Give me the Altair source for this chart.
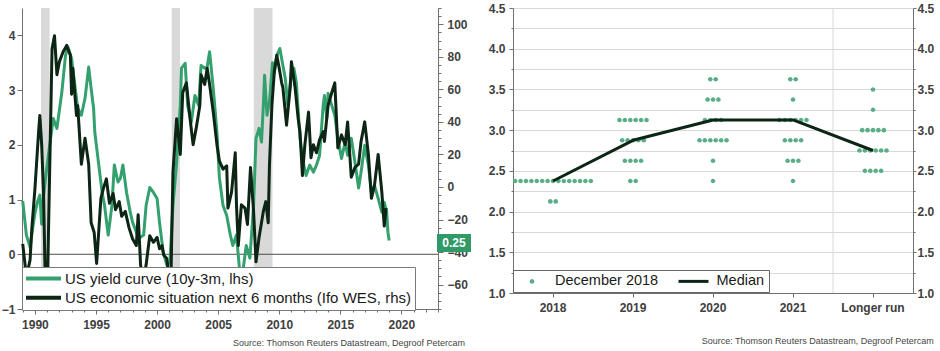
import altair as alt
import pandas as pd

FONT = "Liberation Sans"
GREEN = "#34a06e"
DARK = "#0c2514"
DOT = "#5aae86"
LABEL_GREEN = "#2f9a68"
AXIS = "#707070"
TXT = "#404040"
GRID = "#d9d9d9"
REC = "#d9d9d9"

# ---------------- left panel data ----------------
yc_years = [1989.0, 1989.3, 1989.6, 1989.8, 1990.0, 1990.2, 1990.4, 1990.55, 1990.7, 1990.8,
            1991.1, 1991.5, 1991.8, 1992.2, 1992.5, 1992.7, 1993.0, 1993.3, 1993.5, 1993.8,
            1994.1, 1994.4, 1994.6, 1994.8, 1994.9, 1995.2, 1995.5, 1995.7, 1996.0, 1996.3,
            1996.5, 1996.8, 1997.0, 1997.2, 1997.5, 1997.8, 1998.0, 1998.5, 1998.9, 1999.1,
            1999.4, 1999.7, 2000.0, 2000.2, 2000.5, 2000.8, 2001.05, 2001.3, 2001.6, 2001.9,
            2002.0, 2002.3, 2002.5, 2002.8, 2003.1, 2003.4, 2003.6, 2003.9, 2004.1, 2004.3,
            2004.6, 2004.9, 2005.1, 2005.4, 2005.7, 2006.0, 2006.2, 2006.5, 2006.8, 2007.0,
            2007.3, 2007.6, 2007.9, 2008.1, 2008.35, 2008.55, 2008.7, 2008.8, 2009.0, 2009.2,
            2009.45, 2009.6, 2009.8, 2010.05, 2010.3, 2010.5, 2010.7, 2011.0, 2011.2, 2011.4,
            2011.7, 2011.96, 2012.2, 2012.5, 2012.8, 2013.05, 2013.3, 2013.6, 2013.7, 2013.9,
            2014.0, 2014.3, 2014.55, 2014.8, 2015.1, 2015.4, 2015.6, 2015.9, 2016.2, 2016.5,
            2016.7, 2017.0, 2017.3, 2017.55, 2017.8, 2018.1, 2018.4, 2018.6, 2018.8, 2018.9,
            2019.0]
yc_vals = [0.97, 0.35, 0.13, 0.45, 0.75, 0.95, 1.08, 0.55, 1.05, 1.26,
           1.81, 2.48, 2.3, 2.96, 3.63, 3.79, 3.58, 3.03, 2.67, 2.54,
           2.85, 3.42, 3.03, 2.67, 2.23, 1.68, 1.13, 0.89, 0.35, 0.89,
           1.63, 1.32, 1.39, 1.63, 1.13, 0.77, 0.58, 0.29, 0.35, 0.89,
           1.22, 1.13, 1.02, 0.58, 0.04, -0.2, -0.15, 0.89, 1.68, 2.72,
           3.4, 3.49, 2.72, 2.41, 2.9, 2.72, 3.45, 3.4, 3.42, 3.7,
           3.03, 2.23, 1.4, 0.89, 0.71, 0.35, 0.16, 0.35, -0.4, -0.35,
           0.16, -0.07, 0.89, 2.12, 2.3, 2.05, 2.72, 3.27, 2.54, 2.78,
           3.5, 3.32, 3.63, 3.76, 3.45, 3.21, 2.72, 3.32, 3.4, 3.14,
           2.12, 1.68, 1.44, 1.63, 1.5, 1.63, 1.8, 2.72, 2.9, 2.48,
           2.94, 2.72, 2.54, 2.12, 1.75, 2.05, 1.81, 2.12, 1.68, 1.21,
           1.5, 1.99, 1.63, 1.13, 1.26, 1.02, 0.77, 0.95, 0.77, 0.4,
           0.25]

ifo_years = [1989.0, 1989.3, 1989.6, 1989.75, 1990.0, 1990.3, 1990.4, 1990.55, 1990.7, 1990.85,
             1991.05, 1991.1, 1991.4, 1991.6, 1991.8, 1992.0, 1992.3, 1992.6, 1992.9, 1993.0,
             1993.1, 1993.4, 1993.5, 1993.8, 1994.1, 1994.4, 1994.6, 1994.85, 1995.05, 1995.4,
             1995.6, 1995.85, 1996.1, 1996.4, 1996.6, 1996.9, 1997.1, 1997.4, 1997.7, 1998.0,
             1998.3, 1998.45, 1998.65, 1998.85, 1999.1, 1999.4, 1999.7, 2000.0, 2000.2, 2000.4,
             2000.55, 2000.8, 2001.0, 2001.15, 2001.3, 2001.6, 2001.9, 2002.1, 2002.4, 2002.7,
             2002.95, 2003.2, 2003.5, 2003.6, 2003.9, 2004.1, 2004.3, 2004.6, 2004.9, 2005.1,
             2005.4, 2005.7, 2005.8, 2006.1, 2006.4, 2006.5, 2006.65, 2006.9, 2007.2, 2007.4,
             2007.65, 2007.9, 2008.1, 2008.35, 2008.7, 2008.9, 2009.1, 2009.2, 2009.4, 2009.6,
             2009.8, 2010.0, 2010.2, 2010.3, 2010.6, 2010.9, 2011.0, 2011.3, 2011.55, 2011.7,
             2011.9, 2012.1, 2012.4, 2012.6, 2012.8, 2013.05, 2013.3, 2013.6, 2013.7, 2014.0,
             2014.3, 2014.55, 2014.8, 2015.1, 2015.4, 2015.6, 2015.9, 2016.2, 2016.5, 2016.7,
             2017.0, 2017.3, 2017.55, 2017.8, 2018.1, 2018.4, 2018.6, 2018.75]
ifo_vals = [-35, -55, -45, -25, -1, 34, 44, 26, -3, -60,
            -50, -31, 85, 93, 69, 77, 83, 87, 81, 57,
            73, 44, 50, 14, 30, 14, -22, -28, -47, -7,
            -1, 5, -10, -4, -14, -9, -18, -15, -25, -32,
            -36, -17, -48, -58, -48, -30, -34, -31, -38, -36,
            -42, -44, -58, -50, 9, 42, 20, 58, 64, 42,
            26, 36, 50, 69, 63, 73, 63, 46, 26, 16,
            11, 13, -13, -3, 21, -11, -36, -11, -13, -23,
            12, -15, -46, -31, -15, -9, -22, 13, 50, 71,
            81, 73, 64, 61, 38, 61, 77, 61, 42, 34,
            7, 26, 46, 18, 26, 21, 29, 34, 28, 50,
            58, 64, 24, 32, 26, 40, 6, 12, 14, 28,
            40, 20, -7, 1, 20, -3, -24, -13]

rec_start = [1990.5, 2001.2, 2007.92]
rec_end = [1991.2, 2001.88, 2009.45]

series_names = ["US yield curve (10y-3m, lhs)",
                "US economic situation next 6 months (Ifo WES, rhs)"]

# ---------------- right panel data ----------------
categories = ["2018", "2019", "2020", "2021", "Longer run"]
dot_cat = ["2018", "2018",
           "2019", "2019", "2019", "2019",
           "2020", "2020", "2020", "2020", "2020", "2020",
           "2021", "2021", "2021", "2021", "2021", "2021",
           "Longer run", "Longer run", "Longer run", "Longer run", "Longer run"]
dot_rate = [2.375, 2.125,
            3.125, 2.875, 2.625, 2.375,
            3.625, 3.375, 3.125, 2.875, 2.625, 2.375,
            3.625, 3.375, 3.125, 2.875, 2.625, 2.375,
            3.5, 3.25, 3.0, 2.75, 2.5]
dot_count = [15, 2,
             6, 5, 4, 2,
             2, 3, 4, 6, 1, 1,
             2, 1, 6, 4, 3, 1,
             1, 1, 5, 6, 4]
medians = [2.375, 2.875, 3.125, 3.125, 2.75]
dot_label = "December 2018"
median_label = "Median"
source = "Source: Thomson Reuters Datastream, Degroof Petercam"

# ---------------- sizes ----------------
W1, H1 = 416, 301
W2, H2 = 400, 285

# ---------------- left panel ----------------
yc_df = pd.DataFrame({"year": yc_years, "val": yc_vals, "series": series_names[0]})
ifo_df = pd.DataFrame({"year": ifo_years, "val": ifo_vals})
rec_df = pd.DataFrame({"year": rec_start, "end": rec_end})
zero_df = pd.DataFrame({"val": [0]})
last_df = pd.DataFrame({"val": [yc_vals[-1]], "t": [f"{yc_vals[-1]:.2f}"]})

xs1 = alt.Scale(domain=[1988.94, 2023.0], nice=False, zero=False)
ysl = alt.Scale(domain=[-1, 4.5], nice=False, zero=False)
ysr = alt.Scale(domain=[-75, 110], nice=False, zero=False)
cs1 = alt.Scale(domain=series_names, range=[GREEN, DARK])

x_axis1 = alt.Axis(values=list(range(1989, 2024)), format="d", title=None, grid=False,
                   labelExpr="datum.value % 5 === 0 ? datum.label : ''",
                   tickSize={"condition": {"test": "datum.value % 5 === 0", "value": 5}, "value": 3},
                   labelPadding=5)
yl_axis = alt.Axis(values=[i * 0.25 for i in range(-4, 19)], format="d", title=None, grid=False,
                   orient="left",
                   labelExpr="datum.value % 1 === 0 ? datum.label : ''",
                   tickSize={"condition": {"test": "datum.value % 1 === 0", "value": 5}, "value": 3},
                   labelPadding=2)
yr_axis = alt.Axis(values=list(range(-75, 111, 5)), format="d", title=None, grid=False,
                   orient="right",
                   labelExpr="datum.value % 20 === 0 ? datum.label : ''",
                   tickSize={"condition": {"test": "datum.value % 20 === 0", "value": 5}, "value": 3},
                   labelPadding=4)

NB = "\u00a0"
leg1 = alt.Legend(title=None, orient="none", legendX=0, legendY=259, direction="vertical",
                  symbolType="M-3.18,0L3.18,0", symbolSize=121, symbolStrokeWidth=4,
                  symbolOffset=10, labelOffset=14, rowPadding=2.3, padding=4,
                  labelFont=FONT, labelFontSize=15, labelColor="#1a1a1a", labelLimit=800,
                  fillColor="white", strokeColor="#7a7a7a",
                  labelExpr="datum.label + '" + NB * 9 + "'")

X1 = alt.X("year:Q", scale=xs1, axis=x_axis1)
YL = alt.Y("val:Q", scale=ysl, axis=yl_axis)

rec = alt.Chart(rec_df).mark_rect(color=REC).encode(
    x=X1, x2="end:Q", y=alt.value(0), y2=alt.value("height"))
zero = alt.Chart(zero_df).mark_rule(color="#4d4d4d", strokeWidth=1).encode(y=YL)
green = alt.Chart(yc_df).mark_line(strokeWidth=3, strokeJoin="round").encode(
    x=X1, y=YL, color=alt.Color("series:N", scale=cs1, legend=leg1))
box = alt.Chart(last_df).mark_point(shape="M-1.7,-0.9L1.7,-0.9L1.7,0.9L-1.7,0.9Z", size=400,
                                     filled=True, opacity=1, color=LABEL_GREEN, yOffset=2.5).encode(
    x=alt.value(W1 + 16), y=YL)
boxtxt = alt.Chart(last_df).mark_text(color="white", font=FONT, fontWeight="bold", fontSize=12,
                                       align="center", baseline="middle", yOffset=2.5).encode(
    x=alt.value(W1 + 16), y=YL, text="t:N")

left_group = alt.layer(rec, zero, green, box, boxtxt)
black = alt.Chart(ifo_df).mark_line(strokeWidth=3, color=DARK, strokeJoin="round").encode(
    x=X1, y=alt.Y("val:Q", scale=ysr, axis=yr_axis))

title_params = dict(orient="bottom", anchor="end", fontSize=9, fontWeight="normal",
                    font=FONT, color="#444444")
left = alt.layer(left_group, black).resolve_scale(y="independent").properties(
    width=W1, height=H1,
    title=alt.TitleParams(text=source, offset=9, dx=-6, **title_params))

# ---------------- right panel ----------------
rows = []
for c, r, n in zip(dot_cat, dot_rate, dot_count):
    for i in range(n):
        rows.append({"cat": c, "rate": r, "off": i - (n - 1) / 2, "series": dot_label})
dots_df = pd.DataFrame(rows)
med_df = pd.DataFrame({"cat": categories, "rate": medians})
sep_df = pd.DataFrame({"cat": [categories[-1]]})

xs2 = alt.Scale(type="band", domain=categories, paddingInner=0, paddingOuter=0)
ys2 = alt.Scale(domain=[1.0, 4.5], nice=False, zero=False)
yvals2 = [1.0 + 0.25 * i for i in range(15)]

CIRCLE = "M-3,0M0.46,0A0.46,0.46,0,1,1,-0.46,0A0.46,0.46,0,1,1,0.46,0Z"
BAR = "M-3,-0.3L3,-0.3L3,0.3L-3,0.3Z"

leg2 = alt.Legend(title=None, orient="none", legendX=0, legendY=262, direction="horizontal",
                  symbolSize=100, symbolStrokeWidth=0, symbolOffset=7.75, labelOffset=15.75,
                  columnPadding=19.5, padding=4, labelFont=FONT, labelFontSize=14.5,
                  labelColor="#1a1a1a", labelLimit=800, fillColor="white", strokeColor="#666666",
                  labelExpr="datum.label == 'Median' ? datum.label + '\u2003" + NB + "' : datum.label")

x_axis2 = alt.Axis(title=None, labelAngle=0, tickSize=4, labelPadding=5, grid=False)
y_axis2l = alt.Axis(values=yvals2, format=".1f", title=None, grid=True, gridColor=GRID, orient="left",
                    labelExpr="(datum.value * 2) % 1 === 0 ? datum.label : ''",
                    tickSize={"condition": {"test": "(datum.value * 2) % 1 === 0", "value": 4}, "value": 2},
                    labelPadding=4)
y_axis2r = alt.Axis(values=yvals2, format=".1f", title=None, grid=False, orient="right",
                    labelExpr="(datum.value * 2) % 1 === 0 ? datum.label : ''",
                    tickSize={"condition": {"test": "(datum.value * 2) % 1 === 0", "value": 3}, "value": 2},
                    labelPadding=1)

X2 = alt.X("cat:N", scale=xs2, axis=x_axis2)

sep = alt.Chart(sep_df).mark_rule(color=GRID, strokeWidth=1).encode(
    x=alt.X("cat:N", scale=xs2, axis=x_axis2, bandPosition=0),
    y=alt.value(0), y2=alt.value("height"))
points = alt.Chart(dots_df).mark_point(filled=True, size=100, opacity=1, strokeWidth=0).encode(
    x=X2,
    xOffset=alt.XOffset("off:Q", scale=alt.Scale(domain=[-7.4, 7.4], range=[0, W2 / len(categories)])),
    y=alt.Y("rate:Q", scale=ys2, axis=y_axis2l),
    color=alt.Color("series:N", scale=alt.Scale(domain=[dot_label, median_label], range=[DOT, DARK]),
                    legend=leg2),
    shape=alt.Shape("series:N", scale=alt.Scale(domain=[dot_label, median_label], range=[CIRCLE, BAR]),
                    legend=leg2))
median_line = alt.Chart(med_df).mark_line(color=DARK, strokeWidth=3, strokeJoin="round").encode(
    x=X2, y=alt.Y("rate:Q", scale=ys2, axis=y_axis2r))

right = alt.layer(sep, points, median_line).resolve_axis(y="independent").properties(
    width=W2, height=H2,
    title=alt.TitleParams(text=source, offset=24, **title_params))

chart = alt.hconcat(left, right, spacing=75, bounds="flush").resolve_scale(
    color="independent", shape="independent"
).configure(
    padding={"left": 1, "top": 2, "right": 0, "bottom": 0},
    background="white", font=FONT,
).configure_view(stroke=None).configure_axis(
    labelFont=FONT, labelFontWeight="bold", labelFontSize=12, labelColor=TXT,
    domainColor=AXIS, tickColor=AXIS, labelFlush=False, labelOverlap=False)

chart.save("out.html", embed_options={"renderer": "svg", "actions": False})
